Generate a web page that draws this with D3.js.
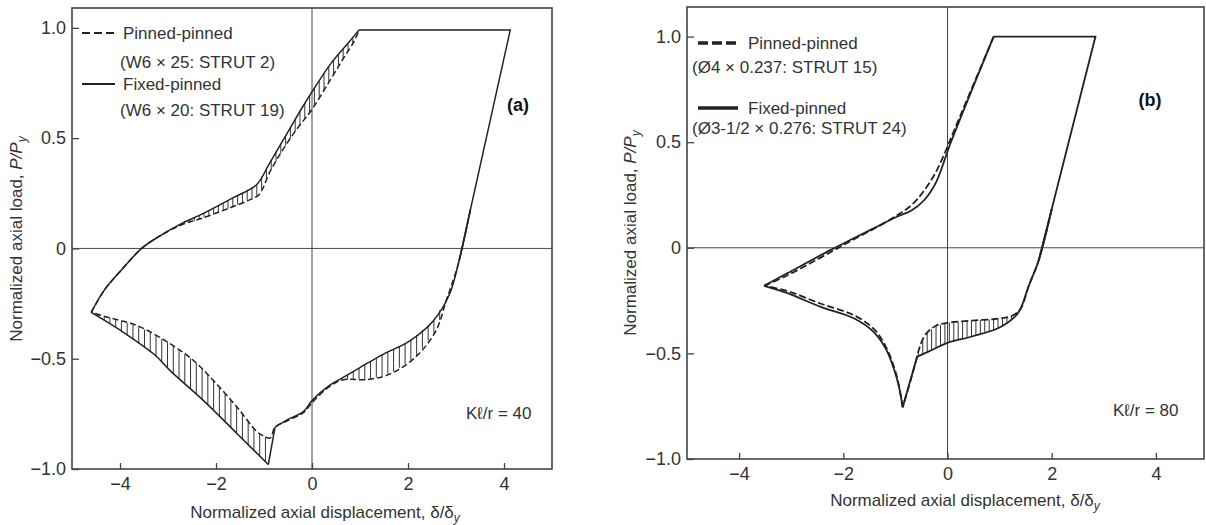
<!DOCTYPE html>
<html>
<head>
<meta charset="utf-8">
<script src="https://cdn.jsdelivr.net/npm/d3@7"></script>
<style>
  body { margin: 0; background: #fff; }
  text { font-family: "Liberation Sans", Arial, sans-serif; fill: #333; }
</style>
</head>
<body>
<svg id="chart" width="1206" height="525"></svg>
<script>
// ---- axis ticks (shared by both panels) ----
var xTicks = [-4, -2, 0, 2, 4];
var xTickLabels = ["\u22124", "\u22122", "0", "2", "4"];
var yTicks = [-1.0, -0.5, 0, 0.5, 1.0];
var yTickLabels = ["\u22121.0", "\u22120.5", "0", "0.5", "1.0"];

// ---- panel (a), K l / r = 40 ----
// Fixed-pinned (W6 x 20: STRUT 19), solid
var aFixedRise = [[-4.60, -0.29], [-4.33, -0.19], [-3.98, -0.10], [-3.55, 0.00], [-3.22, 0.05], [-2.74, 0.11],
    [-2.25, 0.16], [-1.64, 0.23], [-1.15, 0.29], [-0.90, 0.38], [-0.47, 0.54], [-0.20, 0.64], [0.00, 0.71],
    [0.40, 0.84], [0.75, 0.93], [0.98, 0.99]];
var aFixedUnload = [[3.30, 0.176], [3.06, -0.06], [2.86, -0.21], [2.52, -0.33], [2.03, -0.42], [1.48, -0.48],
    [1.00, -0.54], [0.65, -0.585], [0.37, -0.62], [0.00, -0.69], [-0.18, -0.74], [-0.50, -0.775], [-0.77, -0.81]];
var aFixedDrop = [[-0.77, -0.81], [-0.91, -0.98]];
var aFixedComp = [[-0.91, -0.98], [-1.56, -0.84], [-2.26, -0.69], [-2.95, -0.555], [-3.29, -0.48],
    [-3.98, -0.373], [-4.60, -0.29]];
// Pinned-pinned (W6 x 25: STRUT 2), dashed
var aPinnedRise = [[-4.60, -0.29], [-4.33, -0.19], [-3.98, -0.10], [-3.55, 0.00], [-3.22, 0.05], [-2.74, 0.105],
    [-2.25, 0.14], [-1.70, 0.185], [-1.30, 0.22], [-1.10, 0.245], [-0.87, 0.35], [-0.60, 0.45], [-0.32, 0.54],
    [0.00, 0.63], [0.37, 0.76], [0.65, 0.86], [0.88, 0.94], [0.98, 0.99]];
var aPinnedLower = [[3.30, 0.176], [3.06, -0.06], [2.90, -0.17], [2.79, -0.24], [2.59, -0.37], [2.17, -0.49],
    [1.62, -0.57], [1.13, -0.595], [0.65, -0.595], [0.37, -0.625], [0.00, -0.70], [-0.18, -0.745], [-0.50, -0.78],
    [-0.77, -0.81], [-0.87, -0.86], [-1.01, -0.85], [-1.15, -0.83], [-1.56, -0.72], [-2.05, -0.60],
    [-2.46, -0.51], [-2.95, -0.433], [-3.64, -0.35], [-4.26, -0.312], [-4.60, -0.29]];
// yield plateau and elastic unloading, common to both struts
var aYield = [[0.98, 0.99], [4.13, 0.99], [3.06, -0.06]];
// x ranges where the two records are hatched
var aHatchRise = [-2.85, 0.92];
var aHatchComp = [-4.45, -0.93];
var aHatchUnload = [0.62, 2.95];

// ---- panel (b), K l / r = 80 ----
// Fixed-pinned (O3-1/2 x 0.276: STRUT 24), solid
var bFixedRise = [[-3.52, -0.18], [-3.07, -0.12], [-2.24, -0.01], [-1.80, 0.045], [-1.41, 0.093], [-0.96, 0.148],
    [-0.70, 0.175], [-0.45, 0.225], [-0.22, 0.31], [-0.05, 0.42], [0.05, 0.49], [0.886, 1.00]];
var bFixedUnload = [[2.00, 0.183], [1.75, -0.06], [1.56, -0.18], [1.40, -0.29], [1.30, -0.325], [0.98, -0.38],
    [0.47, -0.42], [0.00, -0.45], [-0.29, -0.483], [-0.58, -0.515]];
var bFixedDrop = [[-0.58, -0.515], [-0.71, -0.625], [-0.86, -0.755]];
var bFixedComp = [[-0.86, -0.755], [-0.93, -0.66], [-1.02, -0.58], [-1.18, -0.48], [-1.41, -0.40],
    [-1.79, -0.335], [-2.43, -0.28], [-3.07, -0.215], [-3.52, -0.18]];
// Pinned-pinned (O4 x 0.237: STRUT 15), dashed
var bPinnedRise = [[-3.52, -0.18], [-3.07, -0.13], [-2.24, -0.02], [-1.80, 0.04], [-1.41, 0.09], [-0.96, 0.155],
    [-0.70, 0.20], [-0.45, 0.27], [-0.22, 0.36], [-0.05, 0.45], [0.05, 0.51], [0.886, 1.00]];
var bPinnedLower = [[2.00, 0.183], [1.75, -0.06], [1.56, -0.18], [1.40, -0.29], [1.24, -0.322], [0.98, -0.335],
    [0.47, -0.345], [0.00, -0.355], [-0.23, -0.37], [-0.42, -0.41], [-0.52, -0.46], [-0.60, -0.53],
    [-0.71, -0.63], [-0.86, -0.755]];
var bPinnedComp = [[-0.86, -0.755], [-0.93, -0.655], [-1.02, -0.57], [-1.18, -0.47], [-1.41, -0.385],
    [-1.79, -0.32], [-2.43, -0.265], [-3.07, -0.205], [-3.52, -0.18]];
var bYield = [[0.886, 1.00], [2.84, 1.00], [1.75, -0.06]];
var bHatchUnload = [-0.56, 1.30];

var svg = d3.select("#chart");

/**
 * Linear interpolation of a branch (list of [x, y]) at x; null outside the branch.
 */
function yAt(points, xv) {
    var s = points.slice().sort(function (a, b) { return a[0] - b[0]; });
    var i = d3.bisector(function (d) { return d[0]; }).right(s, xv);
    if (i <= 0 || i >= s.length) return null;
    var a = s[i - 1], b = s[i];
    return a[1] + (xv - a[0]) / (b[0] - a[0]) * (b[1] - a[1]);
}

/**
 * Draws one panel: frame, zero lines, inward ticks, hatching, both curves and texts.
 */
function drawPanel(p) {
    var g = svg.append("g");
    var x = d3.scaleLinear().domain([-5, 5]).range(p.xRange);
    var y = d3.scaleLinear().domain(p.yDomain).range(p.yRange);
    var smooth = d3.line().x(function (d) { return x(d[0]); }).y(function (d) { return y(d[1]); })
        .curve(d3.curveCatmullRom.alpha(0.5));
    var straight = d3.line().x(function (d) { return x(d[0]); }).y(function (d) { return y(d[1]); });

    // zero lines
    g.append("line").attr("x1", x(0)).attr("x2", x(0)).attr("y1", p.yRange[1]).attr("y2", p.yRange[0])
        .attr("stroke", "#444").attr("stroke-width", 1);
    g.append("line").attr("x1", p.xRange[0]).attr("x2", p.frameRight).attr("y1", y(0)).attr("y2", y(0))
        .attr("stroke", "#444").attr("stroke-width", 1);

    // axes with inward ticks
    var xAxis = g.append("g").attr("transform", "translate(0," + p.yRange[0] + ")")
        .call(d3.axisBottom(x).tickValues(xTicks).tickSizeInner(-6).tickSizeOuter(0).tickPadding(8)
            .tickFormat(function (d, i) { return xTickLabels[i]; }));
    var yAxis = g.append("g").attr("transform", "translate(" + p.xRange[0] + ",0)")
        .call(d3.axisLeft(y).tickValues(yTicks).tickSizeInner(-7).tickSizeOuter(0).tickPadding(6)
            .tickFormat(function (d, i) { return yTickLabels[i]; }));
    [xAxis, yAxis].forEach(function (ax) {
        ax.select(".domain").remove();
        ax.attr("color", "#444").attr("font-family", null).attr("font-size", null);
        ax.selectAll("text").style("font-size", "18px").style("fill", "#333");
        ax.selectAll("line").attr("stroke-width", 1.3);
    });

    // frame
    g.append("rect").attr("x", p.xRange[0]).attr("y", p.yRange[1])
        .attr("width", p.frameRight - p.xRange[0]).attr("height", p.yRange[0] - p.yRange[1])
        .attr("fill", "none").attr("stroke", "#444").attr("stroke-width", 1.6);

    // hatching between the two records
    p.hatch.forEach(function (h) {
        var xs = d3.range(h.span[0], h.span[1] + 1e-9, h.step);
        xs.forEach(function (xv) {
            var y1 = yAt(h.solid, xv), y2 = yAt(h.dashed, xv);
            if (y1 === null || y2 === null || Math.abs(y1 - y2) < 0.01) return;
            g.append("line").attr("x1", x(xv)).attr("x2", x(xv)).attr("y1", y(y1)).attr("y2", y(y2))
                .attr("stroke", "#333").attr("stroke-width", 1);
        });
    });

    // curves
    g.append("path").attr("d", straight(p.yieldPath)).attr("fill", "none")
        .attr("stroke", "#222").attr("stroke-width", p.lineWidth).attr("stroke-linejoin", "miter");
    p.solid.forEach(function (pts) {
        g.append("path").attr("d", smooth(pts)).attr("fill", "none")
            .attr("stroke", "#222").attr("stroke-width", p.lineWidth);
    });
    p.dashed.forEach(function (pts) {
        g.append("path").attr("d", smooth(pts)).attr("fill", "none")
            .attr("stroke", "#222").attr("stroke-width", p.lineWidth).attr("stroke-dasharray", p.dash);
    });

    // legend
    var L = p.legend;
    g.append("line").attr("x1", L.x1).attr("x2", L.x2).attr("y1", L.rows[0]).attr("y2", L.rows[0])
        .attr("stroke", "#222").attr("stroke-width", L.width).attr("stroke-dasharray", L.dash);
    g.append("line").attr("x1", L.x1).attr("x2", L.x2).attr("y1", L.rows[2]).attr("y2", L.rows[2])
        .attr("stroke", "#222").attr("stroke-width", L.width);
    L.texts.forEach(function (t, i) {
        g.append("text").attr("x", i % 2 === 0 ? L.tx : L.px).attr("y", L.rows[i]).attr("dy", "0.35em")
            .style("font-size", "17px").text(t);
    });

    // panel tag and slenderness
    g.append("text").attr("x", p.tag[0]).attr("y", p.tag[1]).attr("dy", "0.35em").attr("text-anchor", "middle")
        .style("font-size", "18px").style("font-weight", "bold").style("fill", "#111").text(p.tagText);
    g.append("text").attr("x", p.kl[0]).attr("y", p.kl[1]).attr("dy", "0.35em")
        .style("font-size", "17px").text(p.klText);

    // axis titles
    var xt = g.append("text").attr("x", p.xTitle[0]).attr("y", p.xTitle[1]).attr("text-anchor", "middle")
        .style("font-size", "17px");
    xt.append("tspan").text("Normalized axial displacement, \u03b4/\u03b4");
    xt.append("tspan").attr("dy", "0.3em").style("font-size", "12px").style("font-style", "italic").text("y");
    var yt = g.append("text").attr("transform", "translate(" + p.yTitle[0] + "," + p.yTitle[1] + ") rotate(-90)")
        .attr("text-anchor", "middle").attr("dy", "0.35em").style("font-size", "17px");
    yt.append("tspan").text("Normalized axial load, ");
    yt.append("tspan").style("font-style", "italic").text("P/P");
    yt.append("tspan").attr("dy", "0.3em").style("font-size", "12px").style("font-style", "italic").text("y");
}

drawPanel({
    xRange: [72, 552], frameRight: 552, yDomain: [-1, 1.09], yRange: [469, 8],
    lineWidth: 1.5, dash: "6,3", yieldPath: aYield,
    solid: [aFixedRise, aFixedUnload, aFixedDrop, aFixedComp],
    dashed: [aPinnedRise, aPinnedLower],
    hatch: [
        { span: aHatchRise, step: 0.1, solid: aFixedRise, dashed: aPinnedRise },
        { span: aHatchComp, step: 0.12, solid: aFixedComp, dashed: aPinnedLower },
        { span: aHatchUnload, step: 0.12, solid: aFixedUnload, dashed: aPinnedLower }
    ],
    legend: { x1: 82, x2: 115, tx: 123, px: 120, rows: [33, 62, 84, 110], width: 2, dash: "8,4",
        texts: ["Pinned-pinned", "(W6 \u00d7 25: STRUT 2)", "Fixed-pinned", "(W6 \u00d7 20: STRUT 19)"] },
    tag: [518, 105], tagText: "(a)", kl: [466, 413], klText: "K\u2113/r = 40",
    xTitle: [325, 518], yTitle: [16, 239]
});

drawPanel({
    xRange: [687, 1208], frameRight: 1204, yDomain: [-1, 1.14], yRange: [459, 7],
    lineWidth: 1.8, dash: "7,3", yieldPath: bYield,
    solid: [bFixedRise, bFixedUnload, bFixedDrop, bFixedComp],
    dashed: [bPinnedRise, bPinnedLower, bPinnedComp],
    hatch: [
        { span: bHatchUnload, step: 0.085, solid: bFixedUnload, dashed: bPinnedLower }
    ],
    legend: { x1: 698, x2: 738, tx: 748, px: 692, rows: [43, 67, 108, 128], width: 3.5, dash: "10,4",
        texts: ["Pinned-pinned", "(\u00d84 \u00d7 0.237: STRUT 15)", "Fixed-pinned", "(\u00d83-1/2 \u00d7 0.276: STRUT 24)"] },
    tag: [1150, 100], tagText: "(b)", kl: [1113, 410], klText: "K\u2113/r = 80",
    xTitle: [965, 506], yTitle: [630, 233]
});
</script>
</body>
</html>
